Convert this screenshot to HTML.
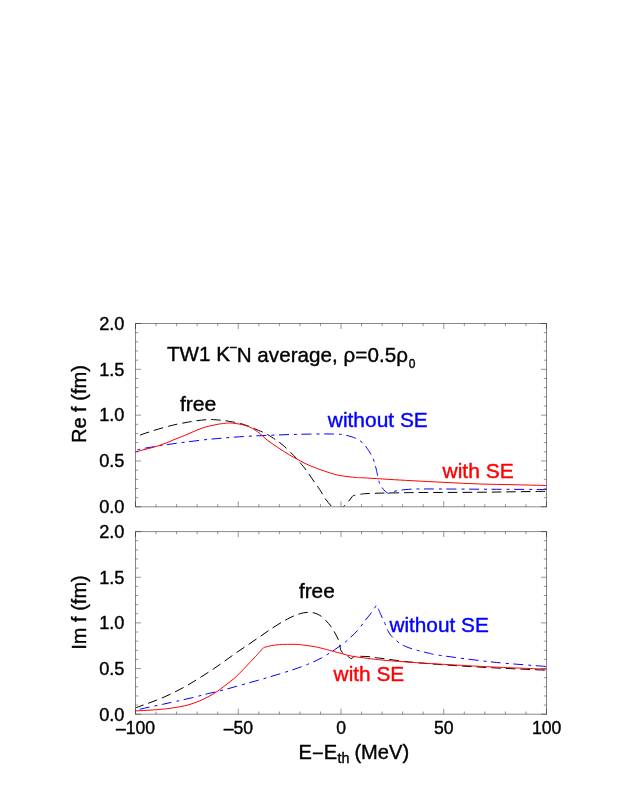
<!DOCTYPE html>
<html><head><meta charset="utf-8"><title>chart</title>
<style>
html,body{margin:0;padding:0;background:#fff;}
body{width:623px;height:806px;overflow:hidden;}
svg{display:block;}
text{font-family:"Liberation Sans",sans-serif;stroke:#000;stroke-width:0.4px;stroke-linejoin:round;}
.b{fill:#0000ff;stroke:#0000ff;}
.r{fill:#ff0000;stroke:#ff0000;}
</style></head><body>
<svg width="623" height="806" viewBox="0 0 623 806">
<rect width="623" height="806" fill="#fff"/>
<defs>
<clipPath id="c1"><rect x="135.5" y="323.5" width="411.0" height="183.3"/></clipPath>
<clipPath id="c2"><rect x="135.5" y="531.6" width="411.0" height="182.60000000000002"/></clipPath>
</defs>
<g fill="none" stroke-width="1.0" stroke-linejoin="round" clip-path="url(#c1)">
<path d="M135.40 450.40C135.73 450.32 135.73 450.28 137.40 449.90C139.07 449.52 142.58 448.63 145.40 448.10C148.22 447.57 151.62 447.13 154.30 446.70C156.98 446.27 159.23 445.87 161.50 445.50C163.77 445.13 165.37 444.88 167.90 444.50C170.43 444.12 173.85 443.63 176.70 443.25C179.55 442.87 181.62 442.62 185.00 442.20C188.38 441.77 192.98 441.18 197.00 440.70C201.02 440.22 205.08 439.71 209.10 439.30C213.12 438.89 216.78 438.62 221.10 438.25C225.42 437.88 230.00 437.46 235.00 437.10C240.00 436.74 245.75 436.38 251.10 436.10C256.45 435.82 261.48 435.63 267.10 435.40C272.72 435.17 279.32 434.88 284.80 434.70C290.28 434.52 294.97 434.42 300.00 434.30C305.03 434.18 310.33 434.06 315.00 434.00C319.67 433.94 324.13 433.92 328.00 433.95C331.87 433.98 335.83 434.11 338.20 434.20C340.57 434.29 340.87 434.32 342.20 434.50C343.53 434.68 344.72 434.95 346.20 435.30C347.68 435.65 349.48 436.08 351.10 436.60C352.72 437.12 354.50 437.75 355.90 438.40C357.30 439.05 358.37 439.75 359.50 440.50C360.63 441.25 361.70 441.95 362.70 442.90C363.70 443.85 364.50 444.90 365.50 446.20C366.50 447.50 367.73 449.23 368.70 450.70C369.67 452.17 370.60 453.73 371.30 455.00C372.00 456.27 372.40 457.17 372.90 458.30C373.40 459.43 373.87 460.47 374.30 461.80C374.73 463.13 375.12 464.82 375.50 466.30C375.88 467.78 376.27 469.25 376.60 470.70C376.93 472.15 377.03 473.00 377.50 475.00C377.97 477.00 378.60 480.55 379.40 482.70C380.20 484.85 381.35 486.50 382.30 487.90C383.25 489.30 384.10 490.21 385.10 491.10C386.10 491.99 387.23 493.05 388.30 493.25C389.37 493.45 390.17 492.71 391.50 492.30C392.83 491.89 394.57 491.18 396.30 490.80C398.03 490.42 399.37 490.27 401.90 490.00C404.43 489.73 406.82 489.32 411.50 489.15C416.18 488.97 418.58 488.94 430.00 488.95C441.42 488.96 460.58 489.11 480.00 489.20C499.42 489.29 535.42 489.45 546.50 489.50" stroke="#0000ff" stroke-dasharray="10 5 3 4.5" stroke-dashoffset="13"/>
<path d="M135.40 437.00C136.50 436.57 139.67 435.25 142.00 434.40C144.33 433.55 146.62 432.80 149.40 431.90C152.18 431.00 155.55 429.93 158.70 429.00C161.85 428.07 165.23 427.10 168.30 426.30C171.37 425.50 174.32 424.80 177.10 424.20C179.88 423.60 182.55 423.15 185.00 422.70C187.45 422.25 189.80 421.83 191.80 421.50C193.80 421.17 194.52 421.02 197.00 420.70C199.48 420.38 204.28 419.80 206.70 419.60C209.12 419.40 209.17 419.40 211.50 419.50C213.83 419.60 218.30 419.98 220.70 420.20C223.10 420.42 223.55 420.45 225.90 420.80C228.25 421.15 232.35 421.85 234.80 422.30C237.25 422.75 238.17 422.80 240.60 423.50C243.03 424.20 247.12 425.65 249.40 426.50C251.68 427.35 252.02 427.63 254.30 428.60C256.58 429.57 260.90 431.32 263.10 432.30C265.30 433.28 265.37 433.23 267.50 434.50C269.63 435.77 273.90 438.57 275.90 439.90C277.90 441.23 278.02 441.35 279.50 442.50C280.98 443.65 282.95 445.15 284.80 446.80C286.65 448.45 288.57 450.38 290.60 452.40C292.63 454.42 295.32 457.08 297.00 458.90C298.68 460.72 299.08 461.30 300.70 463.30C302.32 465.30 304.37 467.70 306.70 470.90C309.03 474.10 312.50 479.35 314.70 482.50C316.90 485.65 318.12 487.07 319.90 489.80C321.68 492.53 323.47 496.12 325.40 498.90C327.33 501.68 329.90 504.23 331.50 506.50C333.10 508.77 334.00 510.55 335.00 512.50C336.00 514.45 337.08 517.25 337.50 518.20C337.92 517.42 339.00 515.38 340.00 513.50C341.00 511.62 342.58 508.40 343.50 506.90C344.42 505.40 344.63 505.43 345.50 504.50C346.37 503.57 347.63 502.57 348.70 501.30C349.77 500.03 351.10 497.87 351.90 496.90C352.70 495.93 353.23 495.73 353.50 495.50C353.90 495.43 354.70 495.30 355.90 495.10C357.10 494.90 359.22 494.53 360.70 494.30C362.18 494.07 361.40 493.90 364.80 493.70C368.20 493.50 375.72 493.24 381.10 493.10C386.48 492.96 391.48 492.94 397.10 492.85C402.72 492.76 406.82 492.62 414.80 492.55C422.78 492.48 434.13 492.50 445.00 492.45C455.87 492.40 468.67 492.36 480.00 492.25C491.33 492.14 501.92 491.96 513.00 491.80C524.08 491.64 540.92 491.38 546.50 491.30" stroke="#000" stroke-dasharray="9.6 5.0" stroke-dashoffset="9.6"/>
<path d="M135.00 452.30C136.33 451.90 140.32 450.63 143.00 449.90C145.68 449.17 148.42 448.63 151.10 447.90C153.78 447.17 156.43 446.37 159.10 445.50C161.77 444.63 164.43 443.75 167.10 442.70C169.77 441.65 172.15 440.42 175.10 439.20C178.05 437.98 181.82 436.63 184.80 435.40C187.78 434.17 190.30 432.95 193.00 431.80C195.70 430.65 198.32 429.45 201.00 428.50C203.68 427.55 206.42 426.78 209.10 426.10C211.78 425.42 214.43 424.87 217.10 424.40C219.77 423.93 222.97 423.53 225.10 423.30C227.23 423.07 228.25 422.98 229.90 423.00C231.55 423.02 232.82 423.10 235.00 423.40C237.18 423.70 240.60 424.22 243.00 424.80C245.40 425.38 247.38 426.02 249.40 426.90C251.42 427.78 253.48 429.10 255.10 430.10C256.72 431.10 257.77 431.83 259.10 432.90C260.43 433.97 261.77 435.32 263.10 436.50C264.43 437.68 265.77 438.93 267.10 440.00C268.43 441.07 269.77 441.95 271.10 442.90C272.43 443.85 273.63 444.72 275.10 445.70C276.57 446.68 278.25 447.72 279.90 448.80C281.55 449.88 282.82 450.85 285.00 452.20C287.18 453.55 290.33 455.38 293.00 456.90C295.67 458.42 298.32 459.90 301.00 461.30C303.68 462.70 306.42 464.10 309.10 465.30C311.78 466.50 314.43 467.50 317.10 468.50C319.77 469.50 322.15 470.32 325.10 471.30C328.05 472.28 331.80 473.62 334.80 474.40C337.80 475.18 339.72 475.50 343.10 476.00C346.48 476.50 351.45 477.08 355.10 477.40C358.75 477.72 359.33 477.57 365.00 477.90C370.67 478.23 381.27 478.93 389.10 479.40C396.93 479.87 402.68 480.20 412.00 480.70C421.32 481.20 433.72 481.85 445.00 482.40C456.28 482.95 468.37 483.62 479.70 484.00C491.03 484.38 501.87 484.45 513.00 484.70C524.13 484.95 540.92 485.37 546.50 485.50" stroke="#ff0000"/>
</g>
<g fill="none" stroke-width="1.0" stroke-linejoin="round" clip-path="url(#c2)">
<path d="M135.40 710.20C137.73 709.68 144.92 708.07 149.40 707.10C153.88 706.13 157.75 705.38 162.30 704.40C166.85 703.42 171.58 702.35 176.70 701.20C181.82 700.05 187.60 698.80 193.00 697.50C198.40 696.20 203.75 694.73 209.10 693.40C214.45 692.07 219.45 690.98 225.10 689.50C230.75 688.02 237.33 686.08 243.00 684.50C248.67 682.92 253.75 681.53 259.10 680.00C264.45 678.47 269.45 677.02 275.10 675.30C280.75 673.58 287.60 671.52 293.00 669.70C298.40 667.88 302.68 666.40 307.50 664.40C312.32 662.40 317.35 660.17 321.90 657.70C326.45 655.23 330.75 652.33 334.80 649.60C338.85 646.87 342.42 644.48 346.20 641.30C349.98 638.12 354.28 634.03 357.50 630.50C360.72 626.97 363.10 623.18 365.50 620.10C367.90 617.02 370.08 614.47 371.90 612.00C373.72 609.53 375.65 606.42 376.40 605.30C376.77 606.02 377.57 607.40 378.60 609.60C379.63 611.80 381.53 616.17 382.60 618.50C383.67 620.83 384.13 621.60 385.00 623.60C385.87 625.60 386.85 628.58 387.80 630.50C388.75 632.42 389.75 633.83 390.70 635.10C391.65 636.37 392.28 636.95 393.50 638.10C394.72 639.25 396.40 640.80 398.00 642.00C399.60 643.20 401.42 644.38 403.10 645.30C404.78 646.22 406.50 646.88 408.10 647.50C409.70 648.12 410.93 648.47 412.70 649.00C414.47 649.53 415.93 649.98 418.70 650.70C421.47 651.42 425.60 652.50 429.30 653.30C433.00 654.10 430.28 654.03 440.90 655.50C451.52 656.97 475.40 660.27 493.00 662.10C510.60 663.93 537.58 665.77 546.50 666.50" stroke="#0000ff" stroke-dasharray="10 5 3 4.5" stroke-dashoffset="18"/>
<path d="M135.40 707.90C137.53 707.13 143.85 704.92 148.20 703.30C152.55 701.68 157.02 700.10 161.50 698.20C165.98 696.30 170.72 694.08 175.10 691.90C179.48 689.72 183.62 687.50 187.80 685.10C191.98 682.70 196.12 680.07 200.20 677.50C204.28 674.93 208.28 672.38 212.30 669.70C216.32 667.02 220.25 664.27 224.30 661.40C228.35 658.53 232.55 655.33 236.60 652.50C240.65 649.67 244.58 647.13 248.60 644.40C252.62 641.67 256.68 638.87 260.70 636.10C264.72 633.33 268.68 630.40 272.70 627.80C276.72 625.20 281.22 622.52 284.80 620.50C288.38 618.48 291.97 616.73 294.20 615.70C296.43 614.67 296.65 614.78 298.20 614.30C299.75 613.82 301.75 613.13 303.50 612.80C305.25 612.47 307.10 612.32 308.70 612.30C310.30 612.28 311.70 612.42 313.10 612.70C314.50 612.98 315.63 613.33 317.10 614.00C318.57 614.67 320.50 615.68 321.90 616.70C323.30 617.72 324.37 618.93 325.50 620.10C326.63 621.27 327.63 622.42 328.70 623.70C329.77 624.98 330.95 626.42 331.90 627.80C332.85 629.18 333.62 630.63 334.40 632.00C335.18 633.37 335.90 634.58 336.60 636.00C337.30 637.42 338.07 638.93 338.60 640.50C339.13 642.07 339.47 643.85 339.80 645.40C340.13 646.95 340.47 649.07 340.60 649.80C340.87 650.22 341.67 651.62 342.20 652.30C342.73 652.98 342.87 653.23 343.80 653.90C344.73 654.57 346.58 655.50 347.80 656.30C349.02 657.10 350.55 658.30 351.10 658.70C351.50 658.43 352.83 657.50 353.50 657.10C354.17 656.70 353.83 656.43 355.10 656.30C356.37 656.17 358.57 656.22 361.10 656.30C363.63 656.38 367.83 656.57 370.30 656.80C372.77 657.03 373.48 657.37 375.90 657.70C378.32 658.03 381.12 658.32 384.80 658.80C388.48 659.28 393.15 660.00 398.00 660.60C402.85 661.20 406.12 661.68 413.90 662.40C421.68 663.12 431.52 664.00 444.70 664.90C457.88 665.80 476.03 666.92 493.00 667.80C509.97 668.68 537.58 669.80 546.50 670.20" stroke="#000" stroke-dasharray="9.6 5.0" stroke-dashoffset="1"/>
<path d="M135.40 710.90C137.33 710.80 143.05 710.53 147.00 710.30C150.95 710.07 155.75 709.77 159.10 709.50C162.45 709.23 164.43 709.03 167.10 708.70C169.77 708.37 172.15 707.98 175.10 707.50C178.05 707.02 181.82 706.48 184.80 705.80C187.78 705.12 190.30 704.32 193.00 703.40C195.70 702.48 198.32 701.48 201.00 700.30C203.68 699.12 206.42 697.77 209.10 696.30C211.78 694.83 214.43 693.30 217.10 691.50C219.77 689.70 222.15 687.77 225.10 685.50C228.05 683.23 231.82 680.53 234.80 677.90C237.78 675.27 240.28 672.48 243.00 669.70C245.72 666.92 248.42 664.05 251.10 661.20C253.78 658.35 257.17 654.73 259.10 652.60C261.03 650.47 262.10 649.10 262.70 648.40C263.03 648.22 263.30 647.75 264.70 647.30C266.10 646.85 268.83 646.13 271.10 645.70C273.37 645.27 276.02 644.92 278.30 644.70C280.58 644.48 281.68 644.45 284.80 644.40C287.92 644.35 293.62 644.25 297.00 644.40C300.38 644.55 302.42 644.97 305.10 645.30C307.78 645.63 310.43 645.93 313.10 646.40C315.77 646.87 317.75 647.28 321.10 648.10C324.45 648.92 328.20 649.98 333.20 651.30C338.20 652.62 345.45 654.83 351.10 656.00C356.75 657.17 361.48 657.58 367.10 658.30C372.72 659.02 377.00 659.60 384.80 660.30C392.60 661.00 403.92 661.82 413.90 662.50C423.88 663.18 431.52 663.65 444.70 664.40C457.88 665.15 476.03 666.20 493.00 667.00C509.97 667.80 537.58 668.83 546.50 669.20" stroke="#ff0000"/>
</g>

<g style="opacity:0.999">
<rect x="135.5" y="323.5" width="411.0" height="183.3" fill="none" stroke="#000" stroke-opacity="0.47" stroke-width="1"/>
<path d="M135.50 506.8v-5.5M135.50 323.5v5.5" stroke="#000" stroke-opacity="0.42" stroke-width="1" fill="none"/>
<path d="M156.05 506.8v-2.7M156.05 323.5v2.7" stroke="#000" stroke-opacity="0.42" stroke-width="1" fill="none"/>
<path d="M176.60 506.8v-2.7M176.60 323.5v2.7" stroke="#000" stroke-opacity="0.42" stroke-width="1" fill="none"/>
<path d="M197.15 506.8v-2.7M197.15 323.5v2.7" stroke="#000" stroke-opacity="0.42" stroke-width="1" fill="none"/>
<path d="M217.70 506.8v-2.7M217.70 323.5v2.7" stroke="#000" stroke-opacity="0.42" stroke-width="1" fill="none"/>
<path d="M238.25 506.8v-5.5M238.25 323.5v5.5" stroke="#000" stroke-opacity="0.42" stroke-width="1" fill="none"/>
<path d="M258.80 506.8v-2.7M258.80 323.5v2.7" stroke="#000" stroke-opacity="0.42" stroke-width="1" fill="none"/>
<path d="M279.35 506.8v-2.7M279.35 323.5v2.7" stroke="#000" stroke-opacity="0.42" stroke-width="1" fill="none"/>
<path d="M299.90 506.8v-2.7M299.90 323.5v2.7" stroke="#000" stroke-opacity="0.42" stroke-width="1" fill="none"/>
<path d="M320.45 506.8v-2.7M320.45 323.5v2.7" stroke="#000" stroke-opacity="0.42" stroke-width="1" fill="none"/>
<path d="M341.00 506.8v-5.5M341.00 323.5v5.5" stroke="#000" stroke-opacity="0.42" stroke-width="1" fill="none"/>
<path d="M361.55 506.8v-2.7M361.55 323.5v2.7" stroke="#000" stroke-opacity="0.42" stroke-width="1" fill="none"/>
<path d="M382.10 506.8v-2.7M382.10 323.5v2.7" stroke="#000" stroke-opacity="0.42" stroke-width="1" fill="none"/>
<path d="M402.65 506.8v-2.7M402.65 323.5v2.7" stroke="#000" stroke-opacity="0.42" stroke-width="1" fill="none"/>
<path d="M423.20 506.8v-2.7M423.20 323.5v2.7" stroke="#000" stroke-opacity="0.42" stroke-width="1" fill="none"/>
<path d="M443.75 506.8v-5.5M443.75 323.5v5.5" stroke="#000" stroke-opacity="0.42" stroke-width="1" fill="none"/>
<path d="M464.30 506.8v-2.7M464.30 323.5v2.7" stroke="#000" stroke-opacity="0.42" stroke-width="1" fill="none"/>
<path d="M484.85 506.8v-2.7M484.85 323.5v2.7" stroke="#000" stroke-opacity="0.42" stroke-width="1" fill="none"/>
<path d="M505.40 506.8v-2.7M505.40 323.5v2.7" stroke="#000" stroke-opacity="0.42" stroke-width="1" fill="none"/>
<path d="M525.95 506.8v-2.7M525.95 323.5v2.7" stroke="#000" stroke-opacity="0.42" stroke-width="1" fill="none"/>
<path d="M546.50 506.8v-5.5M546.50 323.5v5.5" stroke="#000" stroke-opacity="0.42" stroke-width="1" fill="none"/>
<path d="M135.5 506.80h5.5M546.5 506.80h-5.5" stroke="#000" stroke-opacity="0.42" stroke-width="1" fill="none"/>
<path d="M135.5 497.63h2.7M546.5 497.63h-2.7" stroke="#000" stroke-opacity="0.42" stroke-width="1" fill="none"/>
<path d="M135.5 488.47h2.7M546.5 488.47h-2.7" stroke="#000" stroke-opacity="0.42" stroke-width="1" fill="none"/>
<path d="M135.5 479.31h2.7M546.5 479.31h-2.7" stroke="#000" stroke-opacity="0.42" stroke-width="1" fill="none"/>
<path d="M135.5 470.14h2.7M546.5 470.14h-2.7" stroke="#000" stroke-opacity="0.42" stroke-width="1" fill="none"/>
<path d="M135.5 460.98h5.5M546.5 460.98h-5.5" stroke="#000" stroke-opacity="0.42" stroke-width="1" fill="none"/>
<path d="M135.5 451.81h2.7M546.5 451.81h-2.7" stroke="#000" stroke-opacity="0.42" stroke-width="1" fill="none"/>
<path d="M135.5 442.64h2.7M546.5 442.64h-2.7" stroke="#000" stroke-opacity="0.42" stroke-width="1" fill="none"/>
<path d="M135.5 433.48h2.7M546.5 433.48h-2.7" stroke="#000" stroke-opacity="0.42" stroke-width="1" fill="none"/>
<path d="M135.5 424.31h2.7M546.5 424.31h-2.7" stroke="#000" stroke-opacity="0.42" stroke-width="1" fill="none"/>
<path d="M135.5 415.15h5.5M546.5 415.15h-5.5" stroke="#000" stroke-opacity="0.42" stroke-width="1" fill="none"/>
<path d="M135.5 405.99h2.7M546.5 405.99h-2.7" stroke="#000" stroke-opacity="0.42" stroke-width="1" fill="none"/>
<path d="M135.5 396.82h2.7M546.5 396.82h-2.7" stroke="#000" stroke-opacity="0.42" stroke-width="1" fill="none"/>
<path d="M135.5 387.65h2.7M546.5 387.65h-2.7" stroke="#000" stroke-opacity="0.42" stroke-width="1" fill="none"/>
<path d="M135.5 378.49h2.7M546.5 378.49h-2.7" stroke="#000" stroke-opacity="0.42" stroke-width="1" fill="none"/>
<path d="M135.5 369.32h5.5M546.5 369.32h-5.5" stroke="#000" stroke-opacity="0.42" stroke-width="1" fill="none"/>
<path d="M135.5 360.16h2.7M546.5 360.16h-2.7" stroke="#000" stroke-opacity="0.42" stroke-width="1" fill="none"/>
<path d="M135.5 351.00h2.7M546.5 351.00h-2.7" stroke="#000" stroke-opacity="0.42" stroke-width="1" fill="none"/>
<path d="M135.5 341.83h2.7M546.5 341.83h-2.7" stroke="#000" stroke-opacity="0.42" stroke-width="1" fill="none"/>
<path d="M135.5 332.67h2.7M546.5 332.67h-2.7" stroke="#000" stroke-opacity="0.42" stroke-width="1" fill="none"/>
<path d="M135.5 323.50h5.5M546.5 323.50h-5.5" stroke="#000" stroke-opacity="0.42" stroke-width="1" fill="none"/>
<rect x="135.5" y="531.6" width="411.0" height="182.60000000000002" fill="none" stroke="#000" stroke-opacity="0.47" stroke-width="1"/>
<path d="M135.50 714.2v-5.5M135.50 531.6v5.5" stroke="#000" stroke-opacity="0.42" stroke-width="1" fill="none"/>
<path d="M156.05 714.2v-2.7M156.05 531.6v2.7" stroke="#000" stroke-opacity="0.42" stroke-width="1" fill="none"/>
<path d="M176.60 714.2v-2.7M176.60 531.6v2.7" stroke="#000" stroke-opacity="0.42" stroke-width="1" fill="none"/>
<path d="M197.15 714.2v-2.7M197.15 531.6v2.7" stroke="#000" stroke-opacity="0.42" stroke-width="1" fill="none"/>
<path d="M217.70 714.2v-2.7M217.70 531.6v2.7" stroke="#000" stroke-opacity="0.42" stroke-width="1" fill="none"/>
<path d="M238.25 714.2v-5.5M238.25 531.6v5.5" stroke="#000" stroke-opacity="0.42" stroke-width="1" fill="none"/>
<path d="M258.80 714.2v-2.7M258.80 531.6v2.7" stroke="#000" stroke-opacity="0.42" stroke-width="1" fill="none"/>
<path d="M279.35 714.2v-2.7M279.35 531.6v2.7" stroke="#000" stroke-opacity="0.42" stroke-width="1" fill="none"/>
<path d="M299.90 714.2v-2.7M299.90 531.6v2.7" stroke="#000" stroke-opacity="0.42" stroke-width="1" fill="none"/>
<path d="M320.45 714.2v-2.7M320.45 531.6v2.7" stroke="#000" stroke-opacity="0.42" stroke-width="1" fill="none"/>
<path d="M341.00 714.2v-5.5M341.00 531.6v5.5" stroke="#000" stroke-opacity="0.42" stroke-width="1" fill="none"/>
<path d="M361.55 714.2v-2.7M361.55 531.6v2.7" stroke="#000" stroke-opacity="0.42" stroke-width="1" fill="none"/>
<path d="M382.10 714.2v-2.7M382.10 531.6v2.7" stroke="#000" stroke-opacity="0.42" stroke-width="1" fill="none"/>
<path d="M402.65 714.2v-2.7M402.65 531.6v2.7" stroke="#000" stroke-opacity="0.42" stroke-width="1" fill="none"/>
<path d="M423.20 714.2v-2.7M423.20 531.6v2.7" stroke="#000" stroke-opacity="0.42" stroke-width="1" fill="none"/>
<path d="M443.75 714.2v-5.5M443.75 531.6v5.5" stroke="#000" stroke-opacity="0.42" stroke-width="1" fill="none"/>
<path d="M464.30 714.2v-2.7M464.30 531.6v2.7" stroke="#000" stroke-opacity="0.42" stroke-width="1" fill="none"/>
<path d="M484.85 714.2v-2.7M484.85 531.6v2.7" stroke="#000" stroke-opacity="0.42" stroke-width="1" fill="none"/>
<path d="M505.40 714.2v-2.7M505.40 531.6v2.7" stroke="#000" stroke-opacity="0.42" stroke-width="1" fill="none"/>
<path d="M525.95 714.2v-2.7M525.95 531.6v2.7" stroke="#000" stroke-opacity="0.42" stroke-width="1" fill="none"/>
<path d="M546.50 714.2v-5.5M546.50 531.6v5.5" stroke="#000" stroke-opacity="0.42" stroke-width="1" fill="none"/>
<path d="M135.5 714.20h5.5M546.5 714.20h-5.5" stroke="#000" stroke-opacity="0.42" stroke-width="1" fill="none"/>
<path d="M135.5 705.07h2.7M546.5 705.07h-2.7" stroke="#000" stroke-opacity="0.42" stroke-width="1" fill="none"/>
<path d="M135.5 695.94h2.7M546.5 695.94h-2.7" stroke="#000" stroke-opacity="0.42" stroke-width="1" fill="none"/>
<path d="M135.5 686.81h2.7M546.5 686.81h-2.7" stroke="#000" stroke-opacity="0.42" stroke-width="1" fill="none"/>
<path d="M135.5 677.68h2.7M546.5 677.68h-2.7" stroke="#000" stroke-opacity="0.42" stroke-width="1" fill="none"/>
<path d="M135.5 668.55h5.5M546.5 668.55h-5.5" stroke="#000" stroke-opacity="0.42" stroke-width="1" fill="none"/>
<path d="M135.5 659.42h2.7M546.5 659.42h-2.7" stroke="#000" stroke-opacity="0.42" stroke-width="1" fill="none"/>
<path d="M135.5 650.29h2.7M546.5 650.29h-2.7" stroke="#000" stroke-opacity="0.42" stroke-width="1" fill="none"/>
<path d="M135.5 641.16h2.7M546.5 641.16h-2.7" stroke="#000" stroke-opacity="0.42" stroke-width="1" fill="none"/>
<path d="M135.5 632.03h2.7M546.5 632.03h-2.7" stroke="#000" stroke-opacity="0.42" stroke-width="1" fill="none"/>
<path d="M135.5 622.90h5.5M546.5 622.90h-5.5" stroke="#000" stroke-opacity="0.42" stroke-width="1" fill="none"/>
<path d="M135.5 613.77h2.7M546.5 613.77h-2.7" stroke="#000" stroke-opacity="0.42" stroke-width="1" fill="none"/>
<path d="M135.5 604.64h2.7M546.5 604.64h-2.7" stroke="#000" stroke-opacity="0.42" stroke-width="1" fill="none"/>
<path d="M135.5 595.51h2.7M546.5 595.51h-2.7" stroke="#000" stroke-opacity="0.42" stroke-width="1" fill="none"/>
<path d="M135.5 586.38h2.7M546.5 586.38h-2.7" stroke="#000" stroke-opacity="0.42" stroke-width="1" fill="none"/>
<path d="M135.5 577.25h5.5M546.5 577.25h-5.5" stroke="#000" stroke-opacity="0.42" stroke-width="1" fill="none"/>
<path d="M135.5 568.12h2.7M546.5 568.12h-2.7" stroke="#000" stroke-opacity="0.42" stroke-width="1" fill="none"/>
<path d="M135.5 558.99h2.7M546.5 558.99h-2.7" stroke="#000" stroke-opacity="0.42" stroke-width="1" fill="none"/>
<path d="M135.5 549.86h2.7M546.5 549.86h-2.7" stroke="#000" stroke-opacity="0.42" stroke-width="1" fill="none"/>
<path d="M135.5 540.73h2.7M546.5 540.73h-2.7" stroke="#000" stroke-opacity="0.42" stroke-width="1" fill="none"/>
<path d="M135.5 531.60h5.5M546.5 531.60h-5.5" stroke="#000" stroke-opacity="0.42" stroke-width="1" fill="none"/>
<text x="124.5" y="513.10" text-anchor="end" font-size="18.2">0.0</text>
<text x="124.5" y="467.28" text-anchor="end" font-size="18.2">0.5</text>
<text x="124.5" y="421.45" text-anchor="end" font-size="18.2">1.0</text>
<text x="124.5" y="375.62" text-anchor="end" font-size="18.2">1.5</text>
<text x="124.5" y="329.80" text-anchor="end" font-size="18.2">2.0</text>
<text x="124.5" y="720.50" text-anchor="end" font-size="18.2">0.0</text>
<text x="124.5" y="674.85" text-anchor="end" font-size="18.2">0.5</text>
<text x="124.5" y="629.20" text-anchor="end" font-size="18.2">1.0</text>
<text x="124.5" y="583.55" text-anchor="end" font-size="18.2">1.5</text>
<text x="124.5" y="537.90" text-anchor="end" font-size="18.2">2.0</text>
<text x="135.60" y="734.20" text-anchor="middle" font-size="17.6">–100</text>
<text x="238.35" y="734.20" text-anchor="middle" font-size="17.6">–50</text>
<text x="341.10" y="734.20" text-anchor="middle" font-size="17.6">0</text>
<text x="443.85" y="734.20" text-anchor="middle" font-size="17.6">50</text>
<text x="546.60" y="734.20" text-anchor="middle" font-size="17.6">100</text>
<text transform="translate(86,443.1) rotate(-90)" font-size="20.4" textLength="78.0" lengthAdjust="spacingAndGlyphs">Re f (fm)</text>
<text transform="translate(86,649.7) rotate(-90)" font-size="20.4" textLength="74.4" lengthAdjust="spacingAndGlyphs">Im f (fm)</text>
<text x="298.6" y="758.5" font-size="20.1">E<tspan dy="1.3">−</tspan><tspan dy="-1.3">E</tspan><tspan dy="4.6" dx="0.3" font-size="14.3">th</tspan><tspan dy="-4.6" dx="-0.6"> (MeV)</tspan></text>
<text x="167.0" y="361.1" font-size="20.6">TW1 K<tspan dy="-10.4" font-size="12">–</tspan><tspan dy="11.0" letter-spacing="0.045">N average, ρ=0.5ρ</tspan><tspan dy="6.1" dx="0.7" font-size="12">0</tspan></text>
<text x="179.9" y="410.7" font-size="20.4" textLength="36.4" lengthAdjust="spacingAndGlyphs">free</text>
<text x="327.8" y="427.1" font-size="20.4" class="b" textLength="100.0" lengthAdjust="spacingAndGlyphs">without SE</text>
<text x="442.5" y="477.9" font-size="20.4" class="r" textLength="71.3" lengthAdjust="spacingAndGlyphs">with SE</text>
<text x="298.9" y="598.1" font-size="20.4" textLength="35.9" lengthAdjust="spacingAndGlyphs">free</text>
<text x="389.4" y="631.9" font-size="20.4" class="b" textLength="99.4" lengthAdjust="spacingAndGlyphs">without SE</text>
<text x="333.6" y="680.9" font-size="20.4" class="r" textLength="70.6" lengthAdjust="spacingAndGlyphs">with SE</text>
</g>
</svg>
</body></html>
